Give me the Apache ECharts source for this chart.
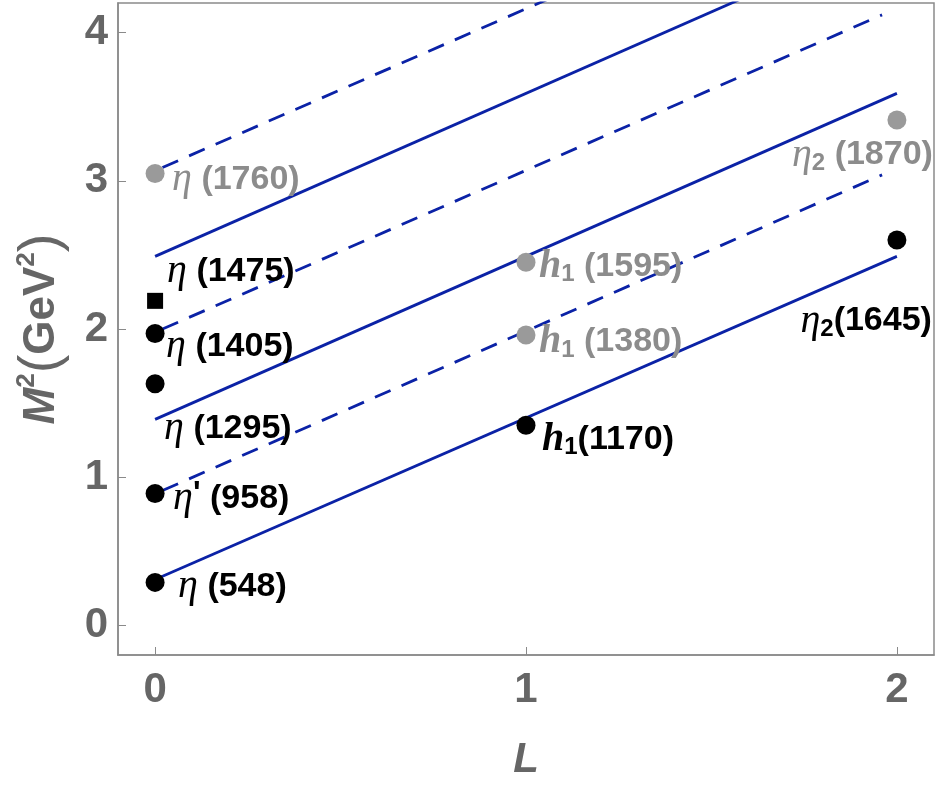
<!DOCTYPE html>
<html>
<head>
<meta charset="utf-8">
<title>Regge trajectories</title>
<script src="https://cdn.jsdelivr.net/npm/echarts@6/dist/echarts.min.js"></script>
<style>
    html, body { margin: 0; padding: 0; background: #fff; }
    #chart { width: 938px; height: 788px; }
</style>
</head>
<body>
<div id="chart"></div>
<script>
// states: orbital L, mass squared (GeV^2), label text, status
const stateL = [0, 0, 0, 0, 0, 0, 1, 1, 1, 2, 2];
const stateM2 = [0.29, 0.89, 1.63, 1.97, 2.19, 3.05, 1.35, 1.96, 2.45, 2.60, 3.41];
const stateName = ['η (548)', "η' (958)", 'η (1295)', 'η (1405)', 'η (1475)', 'η (1760)',
    'h_1(1170)', 'h_1 (1380)', 'h_1 (1595)', 'η_2(1645)', 'η_2 (1870)'];
// est = established, cand = candidate (grey), sq = square marker
const stateStatus = ['est', 'est', 'est', 'est', 'sq', 'cand', 'est', 'cand', 'cand', 'est', 'cand'];

// trajectories: [L, M^2] end points
const solidL = [0, 2];
const solidStart = [0.31, 1.39, 2.49];
const solidEnd = [2.49, 3.59, 4.69];
const dashedL = [0.02, 1.96];
const dashedStart = [0.91, 2.00, 3.09];
const dashedEnd = [3.04, 4.12, 5.21];

const xTicks = [0, 1, 2];
const yTicks = [0, 1, 2, 3, 4];

// label placement relative to marker centre (px): [dx, dy, align]
const labelPlace = [
    [23, 4, 'left'], [18, 5, 'left'], [9, 45, 'left'], [11, 13, 'left'], [12, -29, 'left'],
    [17, 6, 'left'], [16, 14, 'left'], [13, 7, 'left'], [13, 4, 'left'],
    [35, 81, 'right'], [36, 35, 'right']
];

const BLUE = '#0b22a6';
const GREY = '#8c8c8c';
const AXIS = '#666';

function richFor(color) {
    return {
        g: { fontFamily: 'Liberation Serif', fontStyle: 'italic', fontSize: 40, color: color },
        h: { fontFamily: 'Liberation Serif', fontStyle: 'italic', fontWeight: 'bold', fontSize: 40, color: color },
        sub: { fontFamily: 'Liberation Sans', fontWeight: 'bold', fontSize: 24, color: color, verticalAlign: 'bottom', lineHeight: 32 },
        pr: { fontFamily: 'Liberation Sans', fontWeight: 'bold', fontSize: 32, color: color, verticalAlign: 'top', lineHeight: 30 },
        n: { fontFamily: 'Liberation Sans', fontWeight: 'bold', fontSize: 34, color: color }
    };
}

function labelText(name) {
    const m = name.match(/^(η|h)('?)(?:_(\d))?(\s?)\((\d+)\)$/);
    let s = m[1] === 'h' ? '{h|h}' : '{g|η}';
    if (m[2]) s += '{pr|\'}';
    if (m[3]) s += '{sub|' + m[3] + '}';
    s += '{n|' + (m[4] ? ' ' : '') + '(' + m[5] + ')}';
    return s;
}

const pointData = stateL.map((l, i) => {
    const status = stateStatus[i];
    const color = status === 'cand' ? GREY : '#000';
    const size = status === 'sq' ? 16 : 19;
    const half = size / 2;
    const p = labelPlace[i];
    return {
        value: [l, stateM2[i]],
        symbol: status === 'sq' ? 'rect' : 'circle',
        symbolSize: size,
        itemStyle: { color: status === 'cand' ? '#9a9a9a' : '#000', opacity: 1 },
        label: {
            show: true,
            color: color,
            formatter: labelText(stateName[i]),
            position: [p[0] + half, p[1] + half],
            align: p[2],
            verticalAlign: 'middle',
            rich: richFor(color)
        }
    };
});

function trajectory(xs, y0, y1, dashed) {
    return {
        type: 'line',
        data: [[xs[0], y0], [xs[1], y1]],
        showSymbol: false,
        silent: true,
        clip: true,
        z: 2,
        lineStyle: { color: BLUE, width: 2.8, type: dashed ? [17, 12] : 'solid' }
    };
}

const series = [];
solidStart.forEach((y, i) => series.push(trajectory(solidL, y, solidEnd[i], false)));
dashedStart.forEach((y, i) => series.push(trajectory(dashedL, y, dashedEnd[i], true)));
series.push({
    type: 'scatter',
    data: pointData,
    itemStyle: { opacity: 1 },
    z: 5
});

const chart = echarts.init(document.getElementById('chart'));
chart.setOption({
    animation: false,
    grid: {
        left: 118,
        right: 4,
        top: 3,
        bottom: 133,
        show: true,
        borderColor: '#8a8a8a',
        borderWidth: 1.5
    },
    xAxis: {
        type: 'value',
        min: -0.1,
        max: 2.1,
        name: 'L',
        nameLocation: 'middle',
        nameGap: 84,
        nameTextStyle: { fontFamily: 'Liberation Sans', fontStyle: 'italic', fontWeight: 'bold', fontSize: 42, color: AXIS },
        axisLine: { onZero: false, lineStyle: { color: '#8a8a8a', width: 1.5 } },
        axisTick: { inside: true, length: 8, customValues: xTicks, lineStyle: { color: '#8a8a8a' } },
        axisLabel: {
            customValues: xTicks,
            margin: 14,
            fontFamily: 'Liberation Sans',
            fontWeight: 'bold',
            fontSize: 42,
            color: AXIS
        },
        splitLine: { show: false }
    },
    yAxis: {
        type: 'value',
        min: -0.2,
        max: 4.2,
        name: '{m|M}{s|2}{p|(}{t|GeV}{s|2}{p|)}',
        nameLocation: 'middle',
        nameRotate: 90,
        nameGap: 48,
        nameTextStyle: {
            color: AXIS,
            rich: {
                m: { fontFamily: 'Liberation Sans', fontStyle: 'italic', fontWeight: 'bold', fontSize: 44, color: AXIS },
                t: { fontFamily: 'Liberation Sans', fontWeight: 'bold', fontSize: 44, color: AXIS },
                s: { fontFamily: 'Liberation Sans', fontWeight: 'bold', fontSize: 26, color: AXIS, verticalAlign: 'top', lineHeight: 24 },
                p: { fontFamily: 'Liberation Sans', fontSize: 56, color: AXIS }
            }
        },
        axisLine: { show: true, onZero: false, lineStyle: { color: '#8a8a8a', width: 1.5 } },
        axisTick: { show: true, inside: true, length: 8, customValues: yTicks, lineStyle: { color: '#8a8a8a' } },
        axisLabel: {
            customValues: yTicks,
            margin: 10,
            fontFamily: 'Liberation Sans',
            fontWeight: 'bold',
            fontSize: 42,
            color: AXIS
        },
        splitLine: { show: false }
    },
    series: series
});
</script>
</body>
</html>
